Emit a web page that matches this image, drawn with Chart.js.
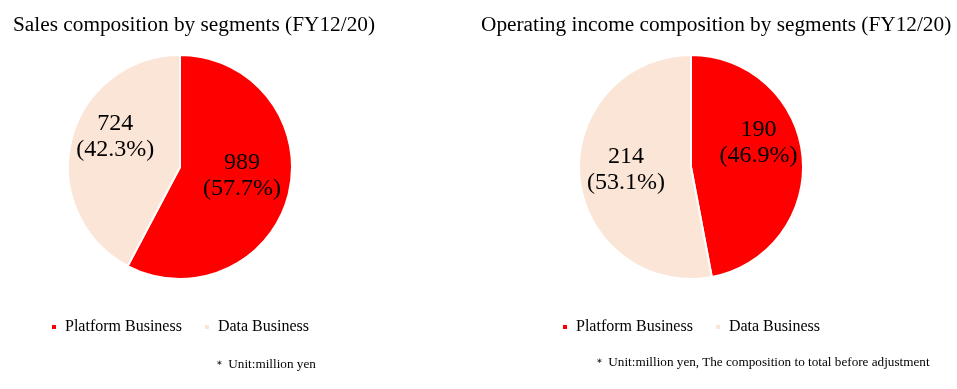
<!DOCTYPE html>
<html>
<head>
<meta charset="utf-8">
<script src="https://cdn.jsdelivr.net/npm/chart.js@4.4.0/dist/chart.umd.min.js"></script>
<style>
  html, body { margin: 0; padding: 0; background: #ffffff; }
  body { width: 957px; height: 389px; position: relative; overflow: hidden; font-family: "Liberation Serif", "Times New Roman", serif; color: #000; }
  .box { position: absolute; top: 0; height: 389px; }
  .title { position: absolute; font-size: 21.3px; line-height: 24px; white-space: nowrap; }
  .note { position: absolute; font-size: 13.2px; line-height: 16px; white-space: nowrap; }
  .ast { font-size: 11px; }
</style>
</head>
<body>
<div class="box" style="left:0;width:478px;"><canvas id="c1"></canvas></div>
<div class="box" style="left:478px;width:479px;"><canvas id="c2"></canvas></div>
<div class="title" id="t1" style="left:13px;top:12px;"></div>
<div class="title" id="t2" style="left:481px;top:12px;"></div>
<div class="note" id="n1" style="left:214px;top:356px;"></div>
<div class="note" id="n2" style="left:594px;top:354px;"></div>
<script>
// ---- data ----
const segments = ["Platform Business", "Data Business"];
const salesValues = [989, 724];
const salesPercents = [57.7, 42.3];
const incomeValues = [190, 214];
const incomePercents = [46.9, 53.1];
const chartTitles = ["Sales composition by segments (FY12/20)", "Operating income composition by segments (FY12/20)"];
const footnotes = ["Unit:million yen", "Unit:million yen, The composition to total before adjustment"];
const segmentColors = ["#FF0000", "#FBE5D6"];

document.getElementById('t1').textContent = chartTitles[0];
document.getElementById('t2').textContent = chartTitles[1];
document.getElementById('n1').innerHTML = '<span class="ast">＊</span> ' + footnotes[0];
document.getElementById('n2').innerHTML = '<span class="ast">＊</span> ' + footnotes[1];

const FONT = "'Liberation Serif', 'Times New Roman', serif";

const labelPlugin = {
  id: 'sliceLabels',
  afterDatasetsDraw(chart, args, opts) {
    const ctx = chart.ctx;
    const meta = chart.getDatasetMeta(0);
    const ds = chart.data.datasets[0];
    ctx.save();
    ctx.font = '24px ' + FONT;
    ctx.fillStyle = '#000';
    ctx.textAlign = 'center';
    ctx.textBaseline = 'middle';
    meta.data.forEach((arc, i) => {
      const p = arc.getProps(['x', 'y', 'startAngle', 'endAngle', 'outerRadius'], true);
      const mid = (p.startAngle + p.endAngle) / 2 + opts.angleShift[i];
      const r = p.outerRadius * opts.radiusFactor[i];
      const cx = p.x + Math.cos(mid) * r;
      const cy = p.y + Math.sin(mid) * r;
      ctx.fillText(String(ds.data[i]), cx, cy - 13);
      ctx.fillText('(' + opts.percents[i].toFixed(1) + '%)', cx, cy + 13);
    });
    ctx.restore();
  }
};

function makePie(id, values, percents, padL, padR, angleShift, radiusFactor) {
  return new Chart(document.getElementById(id), {
    type: 'pie',
    data: {
      labels: segments,
      datasets: [{
        data: values,
        backgroundColor: segmentColors,
        borderColor: '#ffffff',
        borderWidth: 2,
        radius: 112
      }]
    },
    options: {
      responsive: true,
      maintainAspectRatio: false,
      animation: false,
      layout: { padding: { left: padL, right: padR, top: 37, bottom: 44 } },
      plugins: {
        title: { display: false },
        tooltip: { enabled: false },
        legend: {
          display: true,
          position: 'bottom',
          labels: {
            color: '#000',
            font: { family: FONT, size: 16 },
            boxWidth: 6,
            boxHeight: 6,
            padding: 22
          }
        },
        sliceLabels: { percents: percents, radiusFactor: radiusFactor, angleShift: angleShift }
      }
    },
    plugins: [labelPlugin]
  });
}

makePie('c1', salesValues, salesPercents, 0, 118, [-0.1, 0.2], [0.56, 0.64]);
makePie('c2', incomeValues, incomePercents, 0, 53, [-0.25, 0.05], [0.64, 0.58]);
</script>
</body>
</html>
